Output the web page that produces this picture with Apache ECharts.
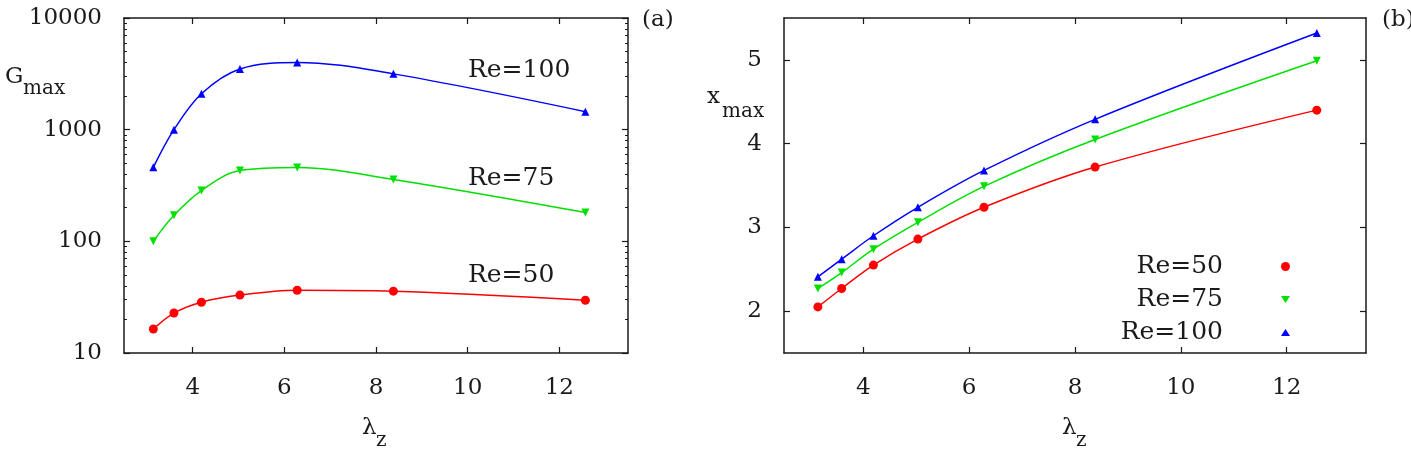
<!DOCTYPE html>
<html>
<head>
<meta charset="utf-8">
<script src="https://cdn.jsdelivr.net/npm/echarts@6/dist/echarts.min.js"></script>
<style>
html, body { margin: 0; padding: 0; background: #fff; }
#chart { width: 1411px; height: 463px; }
</style>
</head>
<body>
<div id="chart"></div>
<script>
// spanwise wavelength (2*pi/beta)
var lambdaZ = [3.14, 3.59, 4.19, 5.03, 6.28, 8.38, 12.57];
// (a) maximum transient growth
var gmax50 = [16.4, 22.8, 28.5, 33, 36.5, 35.8, 29.7];
var gmax75 = [100, 171, 285, 430, 458, 358, 181];
var gmax100 = [460, 1000, 2100, 3500, 4000, 3160, 1450];
// (b) location of the maximum
var xmax50 = [2.05, 2.27, 2.55, 2.86, 3.24, 3.72, 4.40];
var xmax75 = [2.27, 2.46, 2.74, 3.06, 3.49, 4.05, 4.99];
var xmax100 = [2.41, 2.62, 2.90, 3.24, 3.68, 4.29, 5.32];

var reNames = ['Re=50', 'Re=75', 'Re=100'];
var xTicks = [4, 6, 8, 10, 12];
var xmaxTicks = [2, 3, 4, 5];

var FONT = 'DejaVu Serif';
var INK = '#1a1a1a';
var colors = ['#ff0000', '#00e000', '#0000ff'];

var minorLog = [];
[10, 100, 1000].forEach(function (d) {
    for (var k = 2; k <= 9; k++) minorLog.push(k * d);
});

function pairs(ys) {
    return lambdaZ.map(function (x, i) { return [x, ys[i]]; });
}

var lineAxis = { show: true, onZero: false, lineStyle: { color: INK, width: 1.5 } };

function xAxisDef(grid, pos, labels) {
    return {
        type: 'value', gridIndex: grid, position: pos, min: 2.5, max: 13.5,
        axisLine: lineAxis,
        axisTick: { inside: true, length: 6, customValues: xTicks, lineStyle: { color: INK, width: 1.2 } },
        axisLabel: { show: labels, customValues: xTicks, margin: 24, fontFamily: FONT, fontSize: 23, color: INK },
        splitLine: { show: false }
    };
}

function logAxis(pos, labels, minor) {
    return {
        type: 'log', logBase: 10, gridIndex: 0, position: pos, min: 10, max: 10000,
        axisLine: minor ? { show: false } : lineAxis,
        axisTick: minor
            ? { inside: true, length: 3, customValues: minorLog, lineStyle: { color: INK, width: 1 } }
            : { inside: true, length: 6, lineStyle: { color: INK, width: 1.2 } },
        axisLabel: {
            show: labels, margin: 22, fontFamily: FONT, fontSize: 23, color: INK,
            formatter: function (v) { return String(Math.round(v)); }
        },
        splitLine: { show: false }
    };
}

function linAxis(pos, labels) {
    return {
        type: 'value', gridIndex: 1, position: pos, min: 1.5, max: 5.5,
        axisLine: lineAxis,
        axisTick: { inside: true, length: 6, customValues: xmaxTicks, lineStyle: { color: INK, width: 1.2 } },
        axisLabel: { show: labels, customValues: xmaxTicks, margin: 22, fontFamily: FONT, fontSize: 23, color: INK },
        splitLine: { show: false }
    };
}

var symbols = ['circle', 'triangle', 'triangle'];
var rotates = [0, 180, 0];
var sizes = [9, 8, 8];

function makeSeries(i, ys, xi, yi) {
    return {
        name: reNames[i], type: 'line', xAxisIndex: xi, yAxisIndex: yi,
        data: pairs(ys), smooth: 0.35,
        symbol: symbols[i], symbolRotate: rotates[i], symbolSize: sizes[i],
        lineStyle: { color: colors[i], width: 1.5 },
        itemStyle: { color: colors[i] },
        emphasis: { disabled: true }
    };
}

function txt(s, x, y, size, align) {
    return {
        type: 'text', x: x, y: y, silent: true,
        style: { text: s, font: size + 'px "' + FONT + '"', fill: INK, textAlign: align || 'left', verticalAlign: 'middle' }
    };
}

var dom = document.getElementById('chart');
var myChart = echarts.init(dom);

var option = {
    animation: false,
    grid: [
        { left: 124, top: 18, width: 504, height: 335, outerBoundsMode: 'none' },
        { left: 784, top: 18, width: 582, height: 335, outerBoundsMode: 'none' }
    ],
    xAxis: [
        xAxisDef(0, 'bottom', true),
        xAxisDef(0, 'top', false),
        xAxisDef(1, 'bottom', true),
        xAxisDef(1, 'top', false)
    ],
    yAxis: [
        logAxis('left', true, false),
        logAxis('left', false, true),
        logAxis('right', false, false),
        logAxis('right', false, true),
        linAxis('left', true),
        linAxis('right', false)
    ],
    legend: {
        orient: 'vertical', right: 121, top: 254, align: 'right', padding: 0,
        itemWidth: 9, itemHeight: 9, itemGap: 8, selectedMode: false,
        data: [
            { name: 'Re=50', icon: 'circle' },
            { name: 'Re=75', icon: 'path://M0,0L10,0L5,8Z' },
            { name: 'Re=100', icon: 'path://M5,0L10,8L0,8Z' }
        ],
        textStyle: { fontFamily: FONT, fontSize: 25, color: INK, padding: [0, 53, 0, 0] }
    },
    graphic: [
        txt('G', 5, 77, 23), txt('max', 23, 89, 20),
        txt('x', 707, 97, 23), txt('max', 722, 112, 20),
        txt('\u03bb', 362, 428, 23), txt('z', 376, 441, 20),
        txt('\u03bb', 1062, 428, 23), txt('z', 1076, 441, 20),
        txt('Re=100', 468, 70, 25), txt('Re=75', 468, 178, 25), txt('Re=50', 468, 275, 25),
        txt('(a)', 642, 20, 23), txt('(b)', 1382, 20, 23)
    ],
    series: [
        makeSeries(0, gmax50, 0, 0),
        makeSeries(1, gmax75, 0, 0),
        makeSeries(2, gmax100, 0, 0),
        makeSeries(0, xmax50, 2, 4),
        makeSeries(1, xmax75, 2, 4),
        makeSeries(2, xmax100, 2, 4)
    ]
};

if (option && typeof option === 'object') {
    myChart.setOption(option, true);
}
</script>
</body>
</html>
